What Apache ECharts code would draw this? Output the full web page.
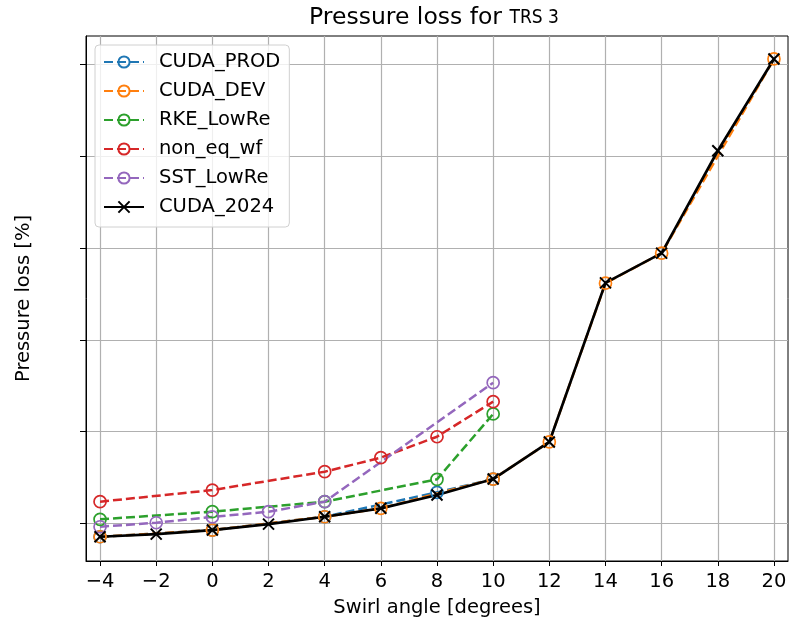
<!DOCTYPE html>
<html>
<head>
<meta charset="utf-8">
<script src="https://cdn.jsdelivr.net/npm/echarts@6/dist/echarts.min.js"></script>
<style>
  html, body { margin: 0; padding: 0; background: #fff; }
  #chart { width: 790px; height: 625px; }
</style>
</head>
<body>
<div id="chart"></div>
<script>
// swirl angle ticks and y grid ticks (y labels are hidden in the original)
const xTicks = [-4, -2, 0, 2, 4, 6, 8, 10, 12, 14, 16, 18, 20];
const yTicks = [0, 1, 2, 3, 4, 5];

const prodX = [-4, 0, 4, 8, 10];
const prodY = [-0.146, -0.073, 0.072, 0.338, 0.483];
const devX = [-4, 0, 4, 6, 10, 12, 14, 16, 20];
const devY = [-0.146, -0.073, 0.072, 0.164, 0.483, 0.887, 2.617, 2.944, 5.06];
const rkeX = [-4, 0, 4, 8, 10];
const rkeY = [0.044, 0.127, 0.236, 0.48, 1.192];
const nonX = [-4, 0, 4, 6, 8, 10];
const nonY = [0.236, 0.363, 0.563, 0.716, 0.944, 1.326];
const sstX = [-4, -2, 0, 2, 4, 10];
const sstY = [-0.037, 0.007, 0.07, 0.127, 0.236, 1.533];
const cudaX = [-4, -2, 0, 2, 4, 6, 8, 10, 12, 14, 16, 18, 20];
const cudaY = [-0.146, -0.117, -0.073, -0.008, 0.072, 0.164, 0.309, 0.483, 0.887, 2.62, 2.944, 4.06, 5.06];

function pairs(xs, ys) {
    return xs.map((x, i) => [x, ys[i]]);
}

function dashed(name, color, xs, ys) {
    return {
        name: name,
        type: 'line',
        color: color,
        data: pairs(xs, ys),
        symbol: 'circle',
        symbolSize: 12,
        lineStyle: { color: color, width: 2.5, type: [9, 4] },
        itemStyle: { color: 'rgba(0,0,0,0)', borderColor: color, borderWidth: 1.7 }
    };
}

const chart = echarts.init(document.getElementById('chart'));
const font = 'DejaVu Sans';
const fs = 19.5;

const option = {
    animation: false,
    backgroundColor: '#fff',
    title: {
        text: '{a|Pressure loss for }{b|TRS 3}',
        left: 429,
        textAlign: 'center',
        top: 1,
        textStyle: {
            fontWeight: 'normal',
            rich: {
                a: { fontFamily: font, fontSize: 23.5, fontWeight: 'normal', color: '#000' },
                b: { fontFamily: 'DejaVu Sans Condensed, Liberation Sans Narrow, DejaVu Sans', fontSize: 19, fontWeight: 'normal', color: '#000' }
            }
        }
    },
    grid: {
        left: 86, right: 2, top: 36, bottom: 64,
        show: true, borderColor: '#000', borderWidth: 1
    },
    legend: {
        orient: 'vertical',
        left: 95,
        top: 45,
        padding: [6, 9, 9, 8],
        itemGap: 7,
        itemWidth: 40,
        itemHeight: 14,
        backgroundColor: 'rgba(255,255,255,0.8)',
        borderColor: '#d0d0d0',
        borderWidth: 1,
        borderRadius: 4,
        textStyle: { fontFamily: font, fontSize: fs, color: '#000', lineHeight: 22, padding: [0, 0, 0, 10] },
        data: ['CUDA_PROD', 'CUDA_DEV', 'RKE_LowRe', 'non_eq_wf', 'SST_LowRe', 'CUDA_2024']
    },
    xAxis: {
        type: 'value',
        min: -4.5,
        max: 20.5,
        name: 'Swirl angle [degrees]',
        nameLocation: 'middle',
        nameGap: 37,
        nameTextStyle: { fontFamily: font, fontSize: fs, color: '#000' },
        axisLine: { show: true, onZero: false, lineStyle: { color: '#000' } },
        axisTick: { show: true, length: 5, customValues: xTicks, lineStyle: { color: '#000' } },
        axisLabel: {
            customValues: xTicks,
            margin: 11,
            fontFamily: font, fontSize: fs, color: '#000',
            formatter: v => String(v).replace('-', '\u2212')
        },
        splitLine: { show: true, customValues: xTicks, lineStyle: { color: '#b0b0b0', width: 1.2 } }
    },
    yAxis: {
        type: 'value',
        min: -0.41,
        max: 5.31,
        name: 'Pressure loss [%]',
        nameLocation: 'middle',
        nameGap: 52,
        nameTextStyle: { fontFamily: font, fontSize: fs, color: '#000' },
        axisLine: { show: true, onZero: false, lineStyle: { color: '#000' } },
        axisTick: { show: true, length: 6, customValues: yTicks, lineStyle: { color: '#000' } },
        axisLabel: { show: false, customValues: yTicks },
        splitLine: { show: true, customValues: yTicks, lineStyle: { color: '#b0b0b0', width: 1.2 } }
    },
    series: [
        dashed('CUDA_PROD', '#1f77b4', prodX, prodY),
        dashed('CUDA_DEV', '#ff7f0e', devX, devY),
        dashed('RKE_LowRe', '#2ca02c', rkeX, rkeY),
        dashed('non_eq_wf', '#d62728', nonX, nonY),
        dashed('SST_LowRe', '#9467bd', sstX, sstY),
        {
            name: 'CUDA_2024',
            type: 'line',
            color: '#000',
            data: pairs(cudaX, cudaY),
            symbol: 'path://M0,0L10,10M0,10L10,0',
            symbolSize: 11,
            lineStyle: { color: '#000', width: 2.7 },
            itemStyle: { color: 'rgba(0,0,0,0)', borderColor: '#000', borderWidth: 2 }
        }
    ]
};

chart.setOption(option);
</script>
</body>
</html>
